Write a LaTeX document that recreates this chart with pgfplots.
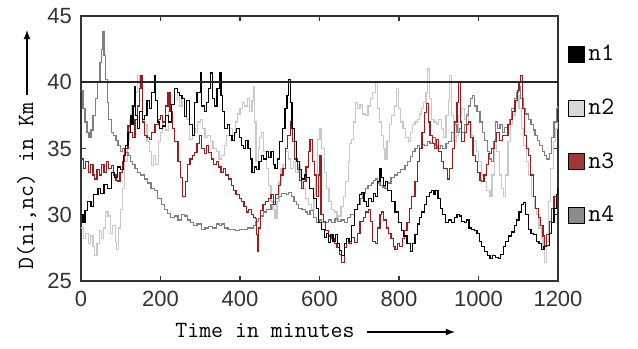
\documentclass[border=0pt]{standalone}
\usepackage{pgfplots}
\pgfplotsset{compat=1.18}
\usepackage{fontspec}
\setmainfont{Liberation Sans}
\definecolor{cN2}{HTML}{C8C8C8}
\definecolor{cN3}{HTML}{9A1E1E}
\definecolor{cN4}{HTML}{808080}
\definecolor{lN2}{HTML}{D8D8D8}
\definecolor{lN3}{HTML}{A03838}
\definecolor{lN4}{HTML}{8C8C8C}
\begin{document}
\begin{tikzpicture}
\begin{axis}[
  name=ax,
  scale only axis,
  width=238.5bp, height=132.5bp,
  xmin=0, xmax=1200, ymin=25, ymax=45,
  xtick={0,200,...,1200}, ytick={25,30,...,45},
  tick align=inside, major tick length=2.5bp,
  axis line style={line width=0.8bp, draw=black!80},
  tick style={line width=0.6bp, draw=black!80},
  /pgf/number format/assume math mode=true,
  /pgf/number format/1000 sep={},
  ticklabel style={font=\fontsize{11bp}{13bp}\selectfont, text=black!80},
  xticklabel style={yshift=-1.5bp},
  yticklabel style={xshift=-1bp},
  legend style={at={(1,1)}, anchor=north west, xshift=5bp, yshift=-13bp,
    draw=none, fill=none, inner sep=0pt, row sep=14.5bp,
    font=\ttfamily\fontsize{12.5bp}{13bp}\selectfont,
    nodes={inner sep=1.5bp}},
  legend cell align=left,
  clip=true,
]
\coordinate (SW) at (rel axis cs:0,0);
\coordinate (NE) at (rel axis cs:1,1);
\addlegendimage{legend image code/.code={\draw[fill=black, draw=black, line width=0.5bp] (0bp,-4bp) rectangle (8bp,4bp);}}
\addlegendentry{n1}
\addlegendimage{legend image code/.code={\draw[fill=lN2, draw=black, line width=0.5bp] (0bp,-4bp) rectangle (8bp,4bp);}}
\addlegendentry{n2}
\addlegendimage{legend image code/.code={\draw[fill=lN3, draw=black, line width=0.5bp] (0bp,-4bp) rectangle (8bp,4bp);}}
\addlegendentry{n3}
\addlegendimage{legend image code/.code={\draw[fill=lN4, draw=black, line width=0.5bp] (0bp,-4bp) rectangle (8bp,4bp);}}
\addlegendentry{n4}

% n2 light gray
\addplot[const plot, cN2, line width=0.6bp, forget plot] coordinates {
(0,29) (6,28.2) (12,28.6) (18,27.8) (24,28.4) (30,27.6) (34,26.9) (40,27.8) (46,28.8) (51,28.2) (56,29.0) (62,30.2) (68,29.9) (74,28.6) (80,29.2) (86,28.0) (89,27.4) (94,29.0) (99,30.4) (104,32.0) (110,34.0) (116,35.6) (122,37.2) (127,38.2) (132,37.5) (138,39.2) (143,40.5) (148,38.6) (154,37.5) (160,36.8) (166,35.5) (172,34.8) (177,33.7) (182,34.5) (188,33.8) (194,35.5) (200,36.2) (206,37.0) (212,36.4) (220,37.8) (228,38.3) (236,38.7) (242,39.2) (248,38.2) (254,38.8) (260,38.0) (266,37.2) (272,35.7) (280,36.5) (287,36.2) (294,37.0) (300,37.2) (306,36.5) (312,35.8) (318,36.0) (325,35.5) (332,35.0) (340,34.8) (347,34.2) (354,34.5) (360,35.2) (366,36.0) (374,36.5) (381,36.0) (388,37.0) (394,37.6) (400,38.0) (406,38.5) (412,38.2) (418,38.8) (424,37.8) (430,38.6) (434,39.7) (437,37.0) (440,34.0) (446,35.0) (450,35.8) (455,36.2) (460,34.8) (466,33.5) (472,32.2) (478,31.0) (483,30.4) (488,29.7) (493,31.0) (498,32.5) (503,33.5) (508,33.8) (515,34.8) (522,34.2) (528,33.5) (534,34.0) (540,33.2) (546,33.8) (552,32.8) (558,32.0) (565,31.2) (572,30.8) (580,30.4) (586,31.5) (590,33.0) (595,35.7) (601,36.5) (606,35.0) (612,33.2) (618,32.0) (624,31.0) (631,30.4) (638,30.2) (644,29.6) (648,29.9) (654,30.6) (660,31.4) (666,32.5) (672,34.0) (676,35.4) (681,35.7) (686,37.0) (690,38.5) (696,38.0) (702,38.3) (708,37.6) (715,37.5) (722,38.2) (728,38.8) (734,39.2) (740,40.0) (745,38.0) (750,37.0) (755,36.0) (760,35.0) (765,34.2) (770,35.5) (776,36.8) (782,37.5) (788,38.2) (794,39.5) (798,38.0) (803,37.0) (810,36.5) (816,35.8) (823,35.5) (828,36.2) (834,36.8) (840,37.0) (846,37.2) (852,37.6) (857,38.0) (862,38.5) (868,39.2) (872,41.0) (876,38.8) (882,37.2) (888,37.0) (894,36.8) (900,37.2) (906,36.5) (912,35.8) (918,37.5) (924,38.6) (928,40.5) (932,37.5) (938,35.5) (944,36.0) (950,37.5) (958,38.0) (964,37.2) (970,37.6) (975,37.0) (982,36.0) (988,35.5) (994,34.8) (1000,34.0) (1008,33.0) (1014,32.5) (1020,31.8) (1029,31.4) (1034,33.0) (1040,35.7) (1046,34.8) (1052,33.0) (1058,32.0) (1063,31.4) (1068,33.0) (1074,35.5) (1080,36.8) (1086,37.5) (1092,38.5) (1096,39.0) (1102,38.0) (1108,36.5) (1114,35.2) (1120,34.0) (1126,33.0) (1134,31.4) (1140,30.5) (1146,30.0) (1152,29.0) (1158,28.2) (1162,27.5) (1167,26.4) (1172,28.0) (1176,31.0) (1182,33.5) (1188,35.5) (1194,36.5) (1200,37.0)
};
% n4 gray
\addplot[const plot, cN4, line width=0.6bp, forget plot] coordinates {
(0,39.4) (5,38.0) (10,37.0) (15,36.2) (20,35.8) (25,36.4) (30,37.5) (36,38.8) (42,40.0) (48,41.5) (52,42.5) (55,43.8) (58,42.0) (62,40.2) (66,38.5) (70,37.2) (76,36.2) (82,36.0) (88,35.6) (93,35.2) (99,34.8) (105,35.0) (110,34.7) (118,34.5) (124,34.0) (130,33.8) (136,33.5) (142,33.2) (150,33.0) (160,32.7) (168,32.4) (176,32.0) (184,31.8) (192,31.2) (202,30.8) (210,30.4) (218,30.1) (226,29.8) (236,29.9) (244,29.6) (252,30.0) (260,29.9) (268,29.6) (276,29.4) (284,29.2) (292,29.3) (303,28.9) (312,29.0) (320,29.1) (330,29.0) (340,29.3) (348,29.2) (354,29.3) (362,29.0) (370,28.9) (380,28.9) (388,28.8) (398,28.9) (408,28.9) (418,29.0) (426,29.0) (434,29.2) (440,29.5) (446,29.7) (452,29.9) (460,30.2) (466,30.4) (472,30.4) (478,30.8) (484,31.0) (490,31.2) (497,31.4) (504,31.6) (510,31.6) (516,31.5) (523,31.7) (530,31.4) (536,31.0) (542,30.8) (548,30.5) (556,30.4) (564,30.2) (570,30.0) (576,30.3) (584,29.8) (592,29.4) (600,29.6) (606,29.4) (614,29.4) (622,29.6) (630,29.4) (639,29.7) (646,29.5) (654,29.6) (662,29.4) (670,29.8) (678,30.0) (689,30.4) (696,30.8) (702,31.2) (708,31.6) (715,32.0) (722,32.2) (730,32.4) (736,32.6) (740,32.7) (746,32.4) (752,32.2) (758,32.1) (765,32.0) (772,32.4) (780,32.8) (788,33.0) (796,33.2) (804,33.4) (815,33.7) (822,34.0) (828,34.4) (834,34.8) (840,35.0) (846,35.2) (852,35.0) (858,35.3) (865,35.2) (872,35.5) (878,35.4) (885,35.8) (891,35.2) (898,35.0) (904,35.2) (910,35.0) (918,35.4) (925,35.5) (932,36.2) (940,36.8) (946,36.2) (952,36.5) (958,36.2) (964,36.8) (970,37.5) (975,38.2) (980,38.8) (985,39.0) (990,38.2) (996,37.8) (1004,37.0) (1010,36.2) (1016,35.6) (1022,34.8) (1028,34.2) (1033,34.0) (1038,35.5) (1042,37.0) (1048,36.5) (1054,36.8) (1060,36.2) (1066,36.6) (1072,36.8) (1078,37.2) (1084,38.0) (1090,38.8) (1095,39.2) (1100,39.7) (1106,38.8) (1112,38.0) (1118,37.6) (1125,37.2) (1132,36.8) (1138,36.4) (1142,36.0) (1148,35.6) (1154,35.2) (1160,34.8) (1166,34.5) (1172,34.2) (1178,34.6) (1184,35.8) (1190,37.0) (1196,38.0) (1200,38.2)
};
% n3 red
\addplot[const plot, cN3, line width=0.6bp, forget plot] coordinates {
(0,34.2) (6,33.5) (12,34.0) (18,33.2) (24,33.8) (30,33.0) (34,32.7) (40,33.4) (46,33.0) (52,33.8) (58,33.2) (64,34.0) (70,33.5) (76,33.7) (82,33.0) (88,32.6) (93,32.5) (98,33.2) (104,34.0) (110,35.0) (118,36.7) (124,36.2) (130,35.8) (136,37.2) (142,38.2) (148,39.5) (151,40.5) (155,37.0) (160,36.0) (166,35.8) (172,35.7) (178,36.2) (186,36.8) (194,37.2) (200,37.5) (206,37.0) (212,38.2) (219,39.2) (224,37.8) (230,36.5) (236,35.5) (244,34.0) (250,32.8) (256,31.4) (262,32.5) (268,33.8) (274,34.2) (280,34.5) (286,34.7) (292,35.4) (298,36.0) (304,35.0) (310,34.6) (316,35.2) (321,34.7) (328,34.2) (334,33.8) (340,34.0) (346,33.6) (352,33.2) (358,33.5) (364,33.0) (371,32.7) (378,32.2) (384,31.8) (390,31.5) (398,31.2) (404,31.0) (410,30.6) (416,30.2) (422,30.4) (428,30.0) (434,29.8) (438,29.7) (442,28.5) (444,27.2) (447,29.0) (452,30.3) (458,30.8) (465,31.0) (472,31.2) (478,31.5) (484,30.8) (490,31.5) (496,32.2) (502,33.0) (508,33.5) (514,35.0) (520,36.0) (527,37.0) (532,35.5) (538,34.2) (544,33.4) (550,32.6) (555,32.0) (560,32.5) (566,33.6) (572,34.8) (576,35.7) (582,34.0) (588,33.0) (593,31.4) (597,33.0) (600,34.5) (604,30.0) (610,29.5) (616,28.8) (622,28.4) (631,28.2) (638,27.8) (644,27.5) (650,27.0) (656,26.4) (662,27.5) (668,28.2) (674,27.8) (680,28.3) (689,27.9) (695,28.6) (702,29.5) (710,29.8) (716,30.2) (723,30.4) (728,29.5) (734,28.0) (740,27.8) (746,29.0) (752,30.0) (756,30.2) (762,29.6) (768,29.0) (774,28.6) (780,28.2) (786,27.6) (790,27.4) (796,27.8) (802,27.6) (808,28.2) (814,28.8) (820,29.4) (826,30.5) (832,31.4) (840,32.5) (846,34.0) (852,35.0) (858,36.2) (865,37.7) (870,38.4) (874,37.0) (878,36.0) (884,35.4) (890,35.0) (895,35.7) (900,34.8) (906,34.0) (912,33.5) (921,32.7) (928,33.5) (934,35.0) (940,37.0) (946,38.5) (950,40.0) (954,37.0) (958,35.5) (964,36.2) (970,36.8) (975,37.0) (980,35.8) (986,34.5) (992,34.0) (998,33.2) (1004,32.6) (1008,32.5) (1014,33.0) (1020,33.8) (1026,34.6) (1033,35.0) (1040,35.5) (1046,36.2) (1052,35.6) (1060,36.0) (1067,36.0) (1074,36.8) (1080,37.2) (1086,37.8) (1092,38.6) (1098,39.4) (1102,40.0) (1105,40.5) (1110,38.0) (1116,36.0) (1121,35.0) (1125,34.5) (1131,33.0) (1138,31.4) (1144,30.5) (1150,29.8) (1156,29.2) (1162,28.4) (1167,27.7) (1172,28.5) (1178,29.5) (1184,30.5) (1190,31.4) (1196,31.0) (1200,31.5)
};
% n1 black
\addplot[const plot, black, line width=0.6bp, forget plot] coordinates {
(0,30.0) (5,29.4) (10,30.3) (17,31.0) (25,30.6) (32,31.5) (43,32.0) (50,31.6) (58,32.3) (66,32.0) (76,33.2) (84,32.8) (92,33.6) (100,33.4) (106,34.5) (112,35.2) (118,36.2) (124,37.5) (128,36.8) (131,38.2) (134,39.7) (137,37.5) (142,36.5) (148,37.8) (155,37.2) (160,37.5) (166,38.6) (172,38.0) (178,39.2) (185,40.5) (188,38.6) (192,37.0) (198,36.5) (206,36.7) (212,37.5) (220,37.0) (228,38.3) (236,39.5) (242,39.2) (248,39.0) (254,38.8) (260,37.4) (266,38.6) (272,36.8) (280,36.0) (286,38.5) (292,39.2) (300,40.7) (304,38.2) (310,37.8) (316,38.5) (321,39.5) (325,40.7) (330,38.8) (336,38.2) (342,39.5) (348,40.7) (352,39.0) (356,37.8) (362,36.5) (368,36.8) (374,36.0) (380,35.6) (386,36.2) (392,36.5) (398,35.8) (404,35.2) (408,35.0) (414,35.6) (420,35.0) (426,34.2) (430,33.2) (436,33.6) (442,33.4) (448,34.0) (455,34.5) (460,34.2) (466,34.8) (472,34.3) (478,34.8) (484,33.8) (488,33.5) (494,34.2) (500,35.5) (506,36.5) (513,38.0) (518,39.0) (523,40.2) (527,38.5) (531,36.5) (537,35.5) (543,34.0) (549,33.4) (555,32.7) (562,33.0) (568,32.8) (575,32.0) (584,31.2) (592,30.5) (598,29.4) (606,28.9) (612,28.3) (618,28.6) (622,27.9) (628,28.5) (634,28.0) (640,28.5) (646,27.8) (651,27.3) (656,26.9) (662,27.8) (668,28.2) (674,28.0) (680,29.2) (689,30.4) (695,30.8) (700,31.5) (706,31.7) (712,31.0) (718,30.6) (724,31.2) (730,31.0) (735,31.6) (740,31.4) (746,32.5) (752,33.5) (756,32.8) (760,32.2) (766,32.5) (772,31.8) (782,31.0) (790,30.2) (798,29.4) (806,28.8) (812,28.4) (820,27.8) (828,27.2) (834,27.8) (840,28.5) (846,29.3) (852,29.8) (857,30.2) (864,30.8) (870,31.4) (876,31.7) (882,31.8) (888,31.5) (892,31.8) (898,31.2) (904,30.5) (910,30.0) (916,29.4) (924,29.6) (932,29.4) (940,29.8) (946,30.0) (952,29.9) (958,29.5) (964,29.4) (970,29.6) (976,29.0) (983,28.9) (990,28.8) (996,28.6) (1002,28.0) (1008,27.6) (1016,27.2) (1022,26.9) (1029,26.7) (1036,26.9) (1042,26.8) (1050,26.7) (1056,27.0) (1062,27.6) (1068,28.0) (1076,28.4) (1084,28.7) (1090,29.2) (1096,29.6) (1102,30.2) (1108,30.8) (1113,30.9) (1118,30.0) (1125,28.9) (1132,28.6) (1138,28.5) (1145,28.0) (1152,27.8) (1159,27.4) (1165,27.6) (1172,27.7) (1178,28.6) (1184,29.4) (1190,30.5) (1196,31.5) (1200,32.0)
};
% threshold line
\addplot[black!85, line width=0.8bp, forget plot] coordinates {(0,40) (1200,40)};
\end{axis}
\node[anchor=base west, inner sep=0pt, font=\ttfamily\fontsize{11.6bp}{13bp}\selectfont]
  at ([shift={(47bp,-28bp)}]SW) {Time in minutes};
\draw[-latex, line width=0.6bp] ([shift={(143bp,-25.5bp)}]SW) -- ([shift={(187bp,-25.5bp)}]SW);
\node[rotate=90, anchor=base west, inner sep=0pt, font=\ttfamily\fontsize{11.6bp}{13bp}\selectfont]
  at ([shift={(-24bp,5.5bp)}]SW) {D(ni,nc) in Km};
\draw[-latex, line width=0.6bp] ([shift={(-27bp,93bp)}]SW) -- ([shift={(-27bp,125.5bp)}]SW);
\pgfresetboundingbox
\path[use as bounding box] ([shift={(-40.5bp,-34bp)}]SW) rectangle ([shift={(40bp,8bp)}]NE);
\end{tikzpicture}
\end{document}
